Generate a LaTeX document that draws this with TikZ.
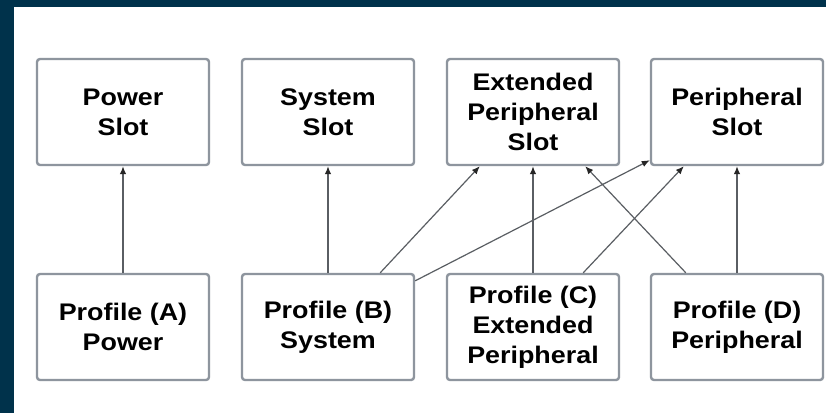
\documentclass[tikz,border=0pt]{standalone}
\usepackage{fontspec}
\setmainfont{Liberation Sans}[FakeStretch=1.12]
\usetikzlibrary{arrows.meta}
\definecolor{navy}{HTML}{00324B}
\definecolor{boxgray}{HTML}{8E959E}
\definecolor{linegray}{HTML}{5A5E63}
\begin{document}
\begin{tikzpicture}[x=1pt, y=-1pt,
    slot/.style={draw=boxgray, line width=2.4pt, rounded corners=3pt, fill=white,
      minimum width=172pt, minimum height=106pt, align=center,
      font=\bfseries\fontsize{24}{30}\selectfont},
    link/.style={draw=linegray, line width=1.2pt, -{Latex[length=8pt,width=6.5pt,color=black!85]}}]
    % frame
    \fill [navy] (0, 0) rectangle (826, 413);
    \fill [white] (14, 7) rectangle (826, 413);
    \useasboundingbox (0, 0) rectangle (826, 413);
                % slots
                \node [slot] (power) at (123, 112) {Power\\Slot};
                \node [slot] (system) at (328, 112) {System\\Slot};
                \node [slot] (ext) at (533, 112) {Extended\\Peripheral\\Slot};
                \node [slot] (per) at (737, 112) {Peripheral\\Slot};
                % profiles
                \node [slot] (profA) at (123, 327) {Profile (A)\\Power};
                \node [slot] (profB) at (328, 327) {Profile (B)\\System};
                \node [slot] (profC) at (533, 327) {Profile (C)\\Extended\\Peripheral};
                \node [slot] (profD) at (737, 327) {Profile (D)\\Peripheral};
                % links
                \draw [link] (profA) -- (power);
                \draw [link] (profB) -- (system);
                \draw [link] ([xshift=-35pt]profB.north east) -- ([xshift=34pt]ext.south west);
                \draw [link] ([yshift=-8pt]profB.north east) -- ([yshift=6pt]per.south west);
                \draw [link] (profC) -- (ext);
                \draw [link] ([xshift=-37pt]profC.north east) -- ([xshift=34pt]per.south west);
                \draw [link] ([xshift=36pt]profD.north west) -- ([xshift=-35pt]ext.south east);
                \draw [link] (profD) -- (per);
            \end{tikzpicture}
\end{document}
